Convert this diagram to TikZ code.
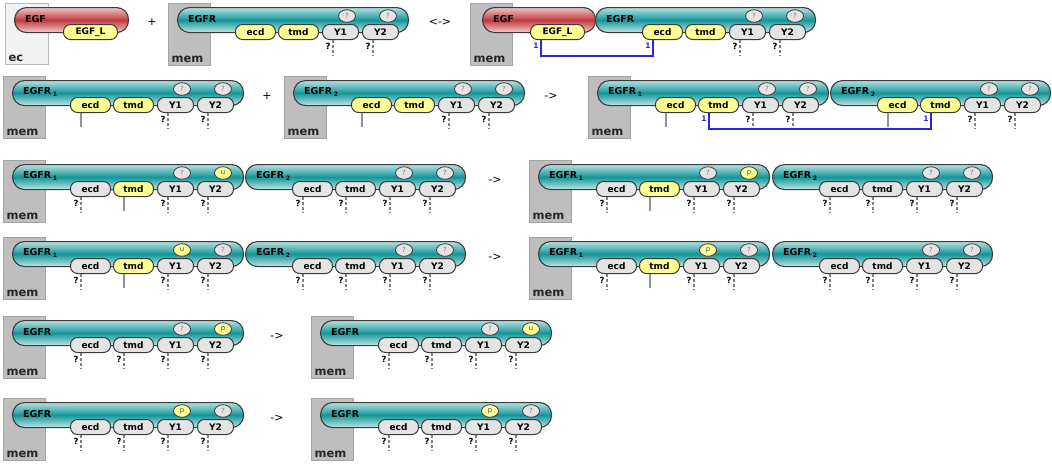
\documentclass[tikz,border=0pt]{standalone}
\usepackage{fontspec}
\setmainfont{DejaVu Sans}
\usetikzlibrary{shapes.geometric,calc}
\definecolor{egfrcol}{RGB}{18,150,152}
\definecolor{egfcol}{RGB}{192,58,62}
\definecolor{sitecol}{RGB}{255,255,150}
\definecolor{anycol}{RGB}{228,228,228}
\definecolor{memcol}{RGB}{190,190,190}
\definecolor{memline}{RGB}{165,165,165}
\definecolor{eccol}{RGB}{242,242,242}
\definecolor{ecline}{RGB}{185,185,185}
\definecolor{outl}{RGB}{60,60,60}
\definecolor{bondcol}{RGB}{40,40,225}

\newcommand{\molsub}[1]{\,\raisebox{-2.5pt}{\fontsize{6}{6}\selectfont #1}}

% compartment: name, left, top, text, style
\newcommand{\compbox}[5]{%
  \node[#5, anchor=north west] (#1) at (#2,#3) {};
  \node[complbl, anchor=south west] (#1-t) at (#1.south west) {#4};
}

% receptor: name, left, top, site offset, label, ecd, tmd, Y1 state, Y2 state
\newcommand{\egfrmol}[9]{%
  \node[egfrbody, minimum width={#4+173}, anchor=north west] (#1) at (#2,#3) {};
  \node[mollbl, anchor=west] (#1-lbl) at (#2+11,#3+12) {#5};
  \node (#1-sa) at (#2+#4+112,#3+9) [statebub, #8];
  \node (#1-sb) at (#2+#4+153,#3+9) [statebub, #9];
  \node[site, #6, minimum width=40, anchor=north west] (#1-ecd) at (#2+#4,#3+17) {ecd};
  \node[site, #7, minimum width=40, anchor=north west] (#1-tmd) at (#2+#4+43,#3+17) {tmd};
  \node[site, anysite, minimum width=36, anchor=north west] (#1-ya) at (#2+#4+87,#3+17) {Y1};
  \node[site, anysite, minimum width=36, anchor=north west] (#1-yb) at (#2+#4+127,#3+17) {Y2};
}

% bond state unknown / bound to anything
\newcommand{\unkbond}[1]{%
  \node[qmark] (#1-q) at ($(#1.south west)+(6,6)$) {?};
  \coordinate (#1-u) at ($(#1.south west)+(11,16)$);
  \draw[unkline] (#1.south west -| #1-u) -- (#1-u);
}
\newcommand{\boundany}[1]{%
  \coordinate (#1-f) at ($(#1.south west)+(11,14)$);
  \draw[anyline] (#1.south west -| #1-f) -- (#1-f);
}

\begin{document}
\begin{tikzpicture}[
    x=1pt, y=-1pt,
    membox/.style={rectangle, draw=memline, fill=memcol, line width=1pt, minimum width=42, minimum height=62, inner sep=0},
    ecbox/.style={rectangle, draw=ecline, fill=eccol, line width=1pt, minimum width=43, minimum height=61, inner sep=0},
    complbl/.style={font=\bfseries\fontsize{11.5}{12}\selectfont, inner sep=3.5pt, text=black!85},
    egfrbody/.style={rectangle, rounded corners=12pt, minimum height=25, inner sep=0, draw=outl, line width=1.1pt, top color=egfrcol!30, bottom color=egfrcol!25, middle color=egfrcol},
    egfbody/.style={rectangle, rounded corners=12pt, minimum height=25, inner sep=0, draw=outl, line width=1.1pt, top color=egfcol!30, bottom color=egfcol!25, middle color=egfcol},
    mollbl/.style={font=\bfseries\fontsize{9.5}{10}\selectfont, inner sep=0, text=black},
    site/.style={rectangle, rounded corners=7pt, minimum height=15, inner sep=0, draw=outl, line width=1pt, font=\bfseries\fontsize{9}{9}\selectfont},
    yessite/.style={fill=sitecol},
    anysite/.style={fill=anycol},
    statebub/.style={ellipse, draw=outl, line width=0.8pt, minimum width=17, minimum height=12.5, inner sep=0, font=\fontsize{7}{7}\selectfont},
    qst/.style={fill=anycol, text=gray, node contents={?}},
    ust/.style={fill=sitecol, text=black!70, node contents={u}},
    pst/.style={fill=sitecol, text=black!70, node contents={p}},
    qmark/.style={font=\bfseries\fontsize{8.5}{8.5}\selectfont, inner sep=0},
    unkline/.style={draw=gray, dash pattern=on 3pt off 2pt, line width=1.2pt},
    anyline/.style={draw=gray!85, line width=1.2pt},
    bond/.style={draw=bondcol, line width=1.3pt},
    bondlbl/.style={text=bondcol, font=\bfseries\fontsize{7.5}{7.5}\selectfont, inner sep=0},
    optext/.style={font=\fontsize{11}{12}\selectfont, inner sep=0},
]
\useasboundingbox (0,0) rectangle (1052,464);

% row 1: binding of EGF
\compbox{r1ec}{5}{3}{ec}{ecbox}
\node[egfbody, minimum width=114, anchor=north west] (r1egf) at (14,7) {};
\node[mollbl, anchor=west] (r1egf-lbl) at (25,19) {EGF};
\node[site, yessite, minimum width=54, anchor=north west] (r1egf-l) at (63,24) {EGF\_L};
\node[optext] (r1plus) at (152,22) {+};
\compbox{r1m}{168}{3}{mem}{membox}
\egfrmol{r1r}{177}{7}{58}{EGFR}{yessite}{yessite}{qst}{qst}
\unkbond{r1r-ya} \unkbond{r1r-yb}
\node[optext] (r1arr) at (440,22) {<->};
\compbox{r1cm}{470}{3}{mem}{membox}
\node[egfbody, minimum width=113, anchor=north west] (r1cegf) at (482,7) {};
\node[mollbl, anchor=west] (r1cegf-lbl) at (493,19) {EGF};
\node[site, yessite, minimum width=54, anchor=north west] (r1cegf-l) at (530,24) {EGF\_L};
\egfrmol{r1cr}{595}{7}{47}{EGFR}{yessite}{yessite}{qst}{qst}
\unkbond{r1cr-ya} \unkbond{r1cr-yb}
\draw[bond] ($(r1cegf-l.south west)+(11,0)$) |- ($(r1cr-ecd.south west)+(11,16)$) -- ($(r1cr-ecd.south west)+(11,0)$);
\node[bondlbl] (r1b1) at ($(r1cegf-l.south west)+(6,6)$) {1};
\node[bondlbl] (r1b2) at ($(r1cr-ecd.south west)+(6,6)$) {1};

% row 2: dimerisation
\compbox{r2m1}{3}{76}{mem}{membox}
\egfrmol{r2a}{12}{80}{58}{EGFR\molsub{1}}{yessite}{yessite}{qst}{qst}
\boundany{r2a-ecd} \unkbond{r2a-ya} \unkbond{r2a-yb}
\node[optext] (r2plus) at (267,96) {+};
\compbox{r2m2}{284}{76}{mem}{membox}
\egfrmol{r2b}{293}{80}{58}{EGFR\molsub{2}}{yessite}{yessite}{qst}{qst}
\boundany{r2b-ecd} \unkbond{r2b-ya} \unkbond{r2b-yb}
\node[optext] (r2arr) at (551,96) {->};
\compbox{r2m3}{588}{76}{mem}{membox}
\egfrmol{r2c}{597}{80}{58}{EGFR\molsub{1}}{yessite}{yessite}{qst}{qst}
\egfrmol{r2d}{830}{80}{47}{EGFR\molsub{2}}{yessite}{yessite}{qst}{qst}
\boundany{r2c-ecd} \unkbond{r2c-ya} \unkbond{r2c-yb}
\boundany{r2d-ecd} \unkbond{r2d-ya} \unkbond{r2d-yb}
\draw[bond] ($(r2c-tmd.south west)+(11,0)$) |- ($(r2d-tmd.south west)+(11,16)$) -- ($(r2d-tmd.south west)+(11,0)$);
\node[bondlbl] (r2b1) at ($(r2c-tmd.south west)+(6,6)$) {1};
\node[bondlbl] (r2b2) at ($(r2d-tmd.south west)+(6,6)$) {1};

% row 3: Y2 phosphorylation in dimer
\compbox{r3m1}{3}{160}{mem}{membox}
\egfrmol{r3a}{12}{164}{58}{EGFR\molsub{1}}{anysite}{yessite}{qst}{ust}
\egfrmol{r3b}{245}{164}{47}{EGFR\molsub{2}}{anysite}{anysite}{qst}{qst}
\node[optext] (r3arr) at (495,180) {->};
\compbox{r3m2}{529}{160}{mem}{membox}
\egfrmol{r3c}{538}{164}{58}{EGFR\molsub{1}}{anysite}{yessite}{qst}{pst}
\egfrmol{r3d}{772}{164}{47}{EGFR\molsub{2}}{anysite}{anysite}{qst}{qst}
\foreach \m in {r3a,r3c} {\unkbond{\m-ecd} \boundany{\m-tmd} \unkbond{\m-ya} \unkbond{\m-yb}}
\foreach \m in {r3b,r3d} {\foreach \s in {ecd,tmd,ya,yb} {\unkbond{\m-\s}}}

% row 4: Y1 phosphorylation in dimer
\compbox{r4m1}{3}{237}{mem}{membox}
\egfrmol{r4a}{12}{241}{58}{EGFR\molsub{1}}{anysite}{yessite}{ust}{qst}
\egfrmol{r4b}{245}{241}{47}{EGFR\molsub{2}}{anysite}{anysite}{qst}{qst}
\node[optext] (r4arr) at (495,257) {->};
\compbox{r4m2}{529}{237}{mem}{membox}
\egfrmol{r4c}{538}{241}{58}{EGFR\molsub{1}}{anysite}{yessite}{pst}{qst}
\egfrmol{r4d}{772}{241}{47}{EGFR\molsub{2}}{anysite}{anysite}{qst}{qst}
\foreach \m in {r4a,r4c} {\unkbond{\m-ecd} \boundany{\m-tmd} \unkbond{\m-ya} \unkbond{\m-yb}}
\foreach \m in {r4b,r4d} {\foreach \s in {ecd,tmd,ya,yb} {\unkbond{\m-\s}}}

% row 5: Y2 dephosphorylation
\compbox{r5m1}{3}{316}{mem}{membox}
\egfrmol{r5a}{12}{320}{58}{EGFR}{anysite}{anysite}{qst}{pst}
\node[optext] (r5arr) at (277,336) {->};
\compbox{r5m2}{311}{316}{mem}{membox}
\egfrmol{r5b}{320}{320}{58}{EGFR}{anysite}{anysite}{qst}{ust}

% row 6: Y1 dephosphorylation
\compbox{r6m1}{3}{398}{mem}{membox}
\egfrmol{r6a}{12}{402}{58}{EGFR}{anysite}{anysite}{pst}{qst}
\node[optext] (r6arr) at (277,418) {->};
\compbox{r6m2}{311}{398}{mem}{membox}
\egfrmol{r6b}{320}{402}{58}{EGFR}{anysite}{anysite}{pst}{qst}
\foreach \m in {r5a,r5b,r6a,r6b} {\foreach \s in {ecd,tmd,ya,yb} {\unkbond{\m-\s}}}

\end{tikzpicture}
\end{document}
